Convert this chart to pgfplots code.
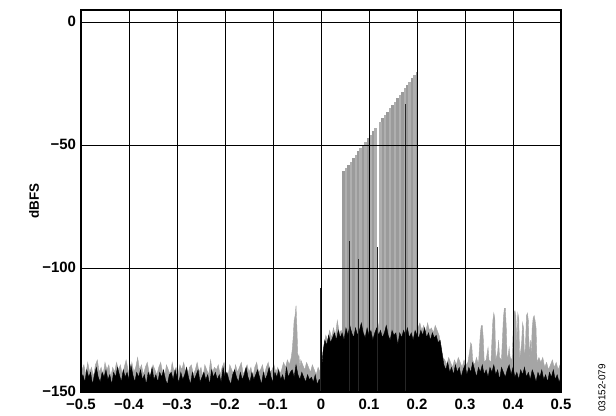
\documentclass[border=0pt]{standalone}
\usepackage{fontspec}
\setmainfont{Liberation Sans}
\usepackage{pgfplots}
\pgfplotsset{compat=1.18}
\definecolor{gtrace}{RGB}{165,165,165}
\definecolor{gtoneA}{RGB}{155,155,155}
\definecolor{gtoneB}{RGB}{175,175,175}
\begin{document}
\begin{tikzpicture}
\begin{axis}[
 scale only axis, width=480bp, height=382bp,
 xmin=-0.5, xmax=0.5, ymin=-150, ymax=5,
 xtick={-0.5,-0.4,-0.3,-0.2,-0.1,0,0.1,0.2,0.3,0.4,0.5},
 xticklabels={−0.5,−0.4,−0.3,−0.2,−0.1,0,0.1,0.2,0.3,0.4,0.5},
 ytick={-150,-100,-50,0},
 yticklabels={−150,−100,−50,0},
 major tick length=0,
 grid=major,
 major grid style={black, line width=0.9bp},
 axis line style={black, line width=1.6bp},
 axis on top,
 ticklabel style={font=\bfseries\fontsize{15}{17}\selectfont},
 xticklabel style={yshift=-4bp},
 yticklabel style={xshift=-1.5bp, yshift=1bp},
]
% gray trace (behind)
\addplot[fill=gtrace, draw=gtrace, line width=0.4bp] coordinates {
(-0.5,-160)
(-0.498,-141)(-0.494,-139)(-0.490,-143)(-0.486,-138)(-0.482,-142)(-0.478,-140)(-0.474,-144)(-0.470,-139)(-0.466,-137)(-0.462,-142)
(-0.458,-140)(-0.454,-143)(-0.450,-138)(-0.446,-141)(-0.442,-139)(-0.438,-144)(-0.434,-140)(-0.430,-142)(-0.426,-138)(-0.422,-141)
(-0.418,-139)(-0.414,-143)(-0.410,-140)(-0.406,-137)(-0.402,-141)(-0.398,-144)(-0.394,-138)(-0.390,-142)(-0.386,-140)(-0.382,-136)
(-0.378,-141)(-0.374,-139)(-0.370,-143)(-0.366,-140)(-0.362,-138)(-0.358,-142)(-0.354,-144)(-0.350,-139)(-0.346,-141)(-0.342,-143)
(-0.338,-140)(-0.334,-138)(-0.330,-142)(-0.326,-144)(-0.322,-139)(-0.318,-141)(-0.314,-143)(-0.310,-138)(-0.306,-142)(-0.302,-140)
(-0.298,-143)(-0.294,-139)(-0.290,-141)(-0.286,-138)(-0.282,-142)(-0.278,-144)(-0.274,-140)(-0.270,-139)(-0.266,-143)(-0.262,-141)
(-0.258,-138)(-0.254,-142)(-0.250,-140)(-0.246,-144)(-0.242,-139)(-0.238,-141)(-0.234,-143)(-0.230,-137)(-0.226,-142)(-0.222,-140)
(-0.218,-141)(-0.214,-139)(-0.210,-143)(-0.206,-140)(-0.202,-138)(-0.198,-142)(-0.194,-144)(-0.190,-139)(-0.186,-141)(-0.182,-143)
(-0.178,-139)(-0.174,-142)(-0.170,-140)(-0.166,-138)(-0.162,-143)(-0.158,-141)(-0.154,-139)(-0.150,-142)(-0.146,-140)(-0.142,-144)
(-0.138,-140)(-0.134,-138)(-0.130,-142)(-0.126,-141)(-0.122,-139)(-0.118,-143)(-0.114,-140)(-0.110,-138)(-0.106,-142)(-0.102,-141)
(-0.098,-139)(-0.094,-142)(-0.090,-140)(-0.086,-143)(-0.082,-141)(-0.078,-138)(-0.074,-140)(-0.070,-137)(-0.066,-139)(-0.062,-136)
(-0.060,-133)(-0.058,-128)(-0.056,-121)(-0.054,-119)(-0.052,-115)(-0.050,-125)(-0.048,-137)(-0.046,-135)(-0.044,-140)(-0.042,-137)
(-0.038,-139)(-0.034,-141)(-0.030,-138)(-0.026,-140)(-0.022,-142)(-0.018,-139)(-0.014,-141)(-0.010,-143)(-0.006,-140)(-0.002,-142)
(0.002,-140)(0.006,-131)(0.010,-127)(0.014,-129)(0.018,-125)(0.022,-128)(0.026,-124)(0.030,-127)(0.034,-121)(0.038,-126)
(0.042,-125)(0.046,-127)(0.050,-123)(0.054,-126)(0.058,-122)(0.062,-125)(0.066,-121)(0.070,-126)(0.074,-123)(0.078,-125)
(0.082,-122)(0.086,-124)(0.090,-121)(0.094,-126)(0.098,-123)(0.102,-125)(0.106,-122)(0.110,-126)(0.114,-123)(0.118,-125)
(0.122,-121)(0.126,-124)(0.130,-126)(0.134,-122)(0.138,-125)(0.142,-123)(0.146,-127)(0.150,-122)(0.154,-125)(0.158,-124)
(0.162,-126)(0.166,-122)(0.170,-125)(0.174,-123)(0.178,-126)(0.182,-122)(0.186,-125)(0.190,-124)(0.194,-122)(0.198,-126)
(0.202,-124)(0.206,-122)(0.210,-125)(0.214,-123)(0.218,-126)(0.222,-122)(0.226,-125)(0.230,-124)(0.234,-126)(0.238,-123)
(0.242,-125)(0.246,-127)(0.250,-131)(0.254,-136)
(0.258,-137)(0.262,-139)(0.266,-136)(0.270,-138)(0.274,-140)(0.278,-137)(0.282,-139)(0.286,-136)(0.290,-138)(0.294,-140)
(0.298,-137)(0.302,-139)(0.306,-138)(0.310,-133)(0.312,-130)(0.314,-131)(0.316,-137)(0.320,-139)(0.324,-136)(0.328,-139)
(0.332,-126)(0.334,-123)(0.336,-123)(0.338,-128)(0.340,-138)(0.344,-137)(0.348,-132)(0.350,-137)(0.354,-138)(0.358,-121)
(0.360,-118)(0.362,-120)(0.364,-137)(0.368,-134)(0.370,-129)(0.372,-136)(0.376,-137)(0.380,-120)(0.382,-116)(0.384,-116)
(0.386,-124)(0.388,-138)(0.392,-132)(0.394,-136)(0.398,-137)(0.400,-127)(0.402,-118)(0.404,-117)(0.406,-119)(0.408,-131)
(0.410,-118)(0.412,-120)(0.414,-137)(0.418,-130)(0.420,-122)(0.422,-124)(0.424,-137)(0.426,-131)(0.428,-119)(0.430,-118)
(0.432,-121)(0.434,-137)(0.436,-129)(0.438,-135)(0.440,-124)(0.442,-120)(0.444,-119)(0.446,-121)(0.448,-124)(0.450,-138)
(0.454,-136)(0.458,-138)(0.462,-136)(0.466,-140)(0.470,-138)(0.474,-141)(0.478,-139)(0.482,-137)(0.486,-140)(0.490,-138)
(0.494,-141)(0.498,-139)
(0.5,-160)
};
% gray tones (even)
\addplot[gtoneA, line width=2.5bp, unbounded coords=jump] coordinates {
(0.0470,-160)(0.0470,-60.5)(0.0470,nan)
(0.0572,-160)(0.0572,-57.8)(0.0572,nan)
(0.0674,-160)(0.0674,-55.1)(0.0674,nan)
(0.0776,-160)(0.0776,-52.4)(0.0776,nan)
(0.0878,-160)(0.0878,-49.7)(0.0878,nan)
(0.0980,-160)(0.0980,-47.0)(0.0980,nan)
(0.1082,-160)(0.1082,-44.3)(0.1082,nan)
(0.1286,-160)(0.1286,-38.9)(0.1286,nan)
(0.1388,-160)(0.1388,-36.2)(0.1388,nan)
(0.1490,-160)(0.1490,-33.5)(0.1490,nan)
(0.1592,-160)(0.1592,-30.8)(0.1592,nan)
(0.1694,-160)(0.1694,-28.1)(0.1694,nan)
(0.1796,-160)(0.1796,-25.4)(0.1796,nan)
(0.1898,-160)(0.1898,-22.7)(0.1898,nan)
(0.2000,-160)(0.2000,-20.0)
};
% gray tones (odd)
\addplot[gtoneB, line width=2.5bp, unbounded coords=jump] coordinates {
(0.0521,-160)(0.0521,-59.2)(0.0521,nan)
(0.0623,-160)(0.0623,-56.5)(0.0623,nan)
(0.0725,-160)(0.0725,-53.8)(0.0725,nan)
(0.0827,-160)(0.0827,-51.1)(0.0827,nan)
(0.0929,-160)(0.0929,-48.4)(0.0929,nan)
(0.1031,-160)(0.1031,-45.7)(0.1031,nan)
(0.1133,-160)(0.1133,-43.0)(0.1133,nan)
(0.1235,-160)(0.1235,-40.3)(0.1235,nan)
(0.1337,-160)(0.1337,-37.6)(0.1337,nan)
(0.1439,-160)(0.1439,-34.9)(0.1439,nan)
(0.1541,-160)(0.1541,-32.2)(0.1541,nan)
(0.1643,-160)(0.1643,-29.5)(0.1643,nan)
(0.1745,-160)(0.1745,-26.8)(0.1745,nan)
(0.1847,-160)(0.1847,-24.1)(0.1847,nan)
(0.1949,-160)(0.1949,-21.4)
};
% black trace (front)
\addplot[fill=black, draw=black, line width=0.4bp] coordinates {
(-0.5,-160)
(-0.500,-145)(-0.496,-143)(-0.492,-146)(-0.488,-141)(-0.484,-144)(-0.480,-142)(-0.476,-147)(-0.472,-143)(-0.468,-140)(-0.464,-144)
(-0.460,-146)(-0.456,-142)(-0.452,-144)(-0.448,-141)(-0.444,-145)(-0.440,-143)(-0.436,-147)(-0.432,-142)(-0.428,-144)(-0.424,-140)
(-0.420,-143)(-0.416,-146)(-0.412,-141)(-0.408,-144)(-0.404,-142)(-0.400,-145)(-0.396,-139)(-0.392,-143)(-0.388,-146)(-0.384,-142)
(-0.380,-144)(-0.376,-141)(-0.372,-145)(-0.368,-143)(-0.364,-147)(-0.360,-142)(-0.356,-144)(-0.352,-140)(-0.348,-145)(-0.344,-143)
(-0.340,-146)(-0.336,-142)(-0.332,-144)(-0.328,-141)(-0.324,-145)(-0.320,-147)(-0.316,-143)(-0.312,-142)(-0.308,-145)(-0.304,-141)
(-0.300,-144)(-0.296,-146)(-0.292,-142)(-0.288,-145)(-0.284,-143)(-0.280,-140)(-0.276,-144)(-0.272,-147)(-0.268,-142)(-0.264,-145)
(-0.260,-143)(-0.256,-141)(-0.252,-146)(-0.248,-144)(-0.244,-142)(-0.240,-145)(-0.236,-143)(-0.232,-147)(-0.228,-141)(-0.224,-144)
(-0.220,-142)(-0.216,-145)(-0.212,-143)(-0.208,-146)(-0.204,-140)(-0.200,-144)(-0.196,-142)(-0.192,-145)(-0.188,-147)(-0.184,-143)
(-0.180,-141)(-0.176,-144)(-0.172,-146)(-0.168,-142)(-0.164,-145)(-0.160,-143)(-0.156,-140)(-0.152,-144)(-0.148,-146)(-0.144,-142)
(-0.140,-145)(-0.136,-143)(-0.132,-141)(-0.128,-144)(-0.124,-147)(-0.120,-142)(-0.116,-145)(-0.112,-143)(-0.108,-140)(-0.104,-144)
(-0.100,-146)(-0.096,-142)(-0.092,-144)(-0.088,-141)(-0.084,-145)(-0.080,-143)(-0.076,-146)(-0.072,-140)(-0.068,-144)(-0.064,-142)
(-0.060,-141)(-0.056,-144)(-0.052,-139)(-0.048,-143)(-0.044,-145)(-0.040,-142)(-0.036,-144)(-0.032,-146)(-0.028,-143)(-0.024,-145)
(-0.020,-144)(-0.016,-146)(-0.012,-143)(-0.008,-147)(-0.004,-145)
(0.000,-145)(0.004,-134)(0.008,-129)(0.012,-131)(0.016,-127)(0.020,-130)(0.024,-128)(0.028,-126)(0.032,-129)(0.036,-125)
(0.040,-128)(0.044,-126)(0.048,-129)(0.052,-124)(0.056,-127)(0.060,-123)(0.064,-126)(0.068,-128)(0.072,-124)(0.076,-127)
(0.080,-125)(0.084,-122)(0.088,-126)(0.092,-128)(0.096,-124)(0.100,-127)(0.104,-125)(0.108,-129)(0.112,-126)(0.116,-124)
(0.120,-127)(0.124,-125)(0.128,-128)(0.132,-126)(0.136,-123)(0.140,-127)(0.144,-129)(0.148,-125)(0.152,-127)(0.156,-126)
(0.160,-131)(0.164,-126)(0.168,-128)(0.172,-125)(0.176,-127)(0.180,-124)(0.184,-128)(0.188,-126)(0.192,-129)(0.196,-125)
(0.200,-127)(0.204,-128)(0.208,-125)(0.212,-127)(0.216,-124)(0.220,-128)(0.224,-126)(0.228,-129)(0.232,-126)(0.236,-128)
(0.240,-127)(0.244,-130)(0.248,-129)(0.252,-134)
(0.256,-139)(0.260,-141)(0.264,-138)(0.268,-142)(0.272,-140)(0.276,-143)(0.280,-139)(0.284,-142)(0.288,-140)(0.292,-144)
(0.296,-141)(0.300,-139)(0.304,-143)(0.308,-140)(0.312,-142)(0.316,-138)(0.320,-141)(0.324,-144)(0.328,-140)(0.332,-142)
(0.336,-139)(0.340,-143)(0.344,-141)(0.348,-144)(0.352,-140)(0.356,-142)(0.360,-139)(0.364,-143)(0.368,-141)(0.372,-145)
(0.376,-140)(0.380,-142)(0.384,-144)(0.388,-141)(0.392,-139)(0.396,-143)(0.400,-140)(0.404,-144)(0.408,-142)(0.412,-145)
(0.416,-141)(0.420,-143)(0.424,-140)(0.428,-144)(0.432,-142)(0.436,-145)(0.440,-141)(0.444,-143)(0.448,-146)(0.452,-142)
(0.456,-144)(0.460,-141)(0.464,-145)(0.468,-143)(0.472,-146)(0.476,-142)(0.480,-144)(0.484,-141)(0.488,-145)(0.492,-143)
(0.496,-146)(0.500,-144)
(0.5,-160)
};
% black tones and spike
\addplot[black!85, line width=0.9bp, unbounded coords=jump] coordinates {
(-0.002,-160)(-0.002,-108)(-0.002,nan)
(0.059,-160)(0.059,-88.7)(0.059,nan)
(0.078,-160)(0.078,-96)(0.078,nan)
(0.1184,-160)(0.1184,-91)(0.1184,nan)
(0.176,-160)(0.176,-33)
};
\end{axis}
\node[rotate=90, font=\bfseries\fontsize{13.5}{15}\selectfont] at ([xshift=-47bp]current axis.west) {dBFS};
\node[rotate=90, font=\fontsize{10}{12}\selectfont] at ([shift={(41bp,4bp)}]current axis.south east) {03152-079};
\path ([shift={(-81bp,-23bp)}]current axis.south west) rectangle ([shift={(55bp,10bp)}]current axis.north east);
\end{tikzpicture}
\end{document}
